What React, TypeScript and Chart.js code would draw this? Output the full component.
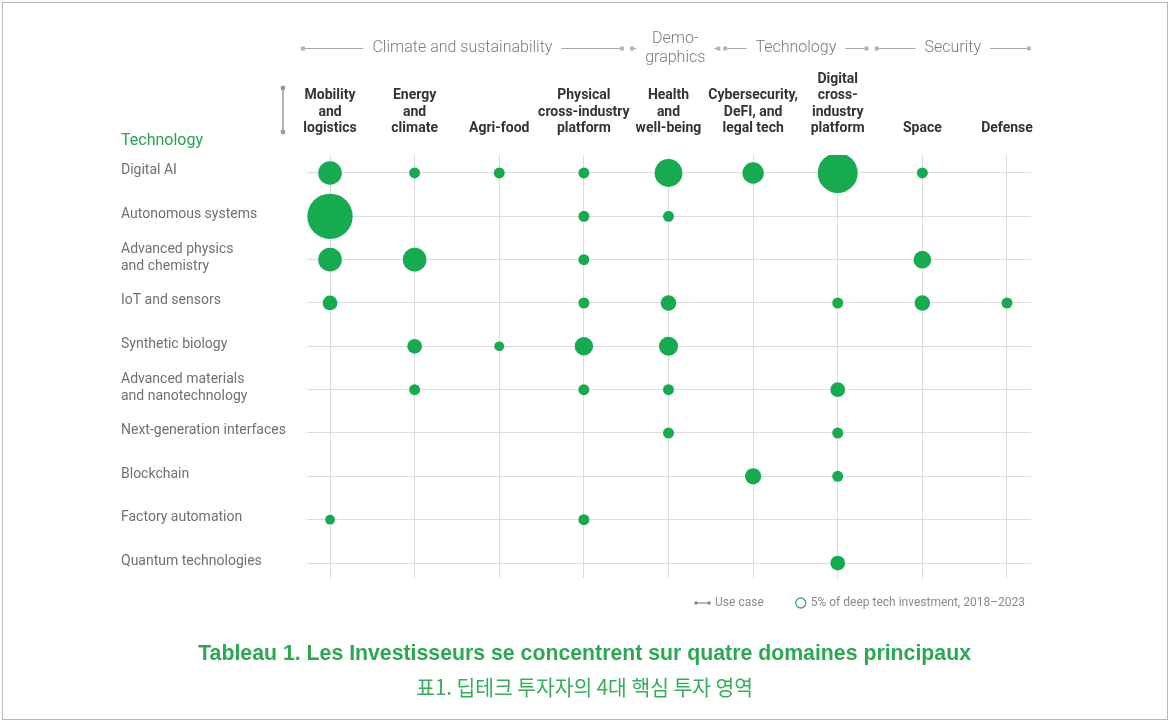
import React, { useEffect, useRef } from 'react';
import { Chart, registerables } from 'chart.js';

Chart.register(...registerables);

// ---- Data -------------------------------------------------------------
const useCases: string[][] = [
  ['Mobility', 'and', 'logistics'],
  ['Energy', 'and', 'climate'],
  ['Agri-food'],
  ['Physical', 'cross-industry', 'platform'],
  ['Health', 'and', 'well-being'],
  ['Cybersecurity,', 'DeFI, and', 'legal tech'],
  ['Digital', 'cross-', 'industry', 'platform'],
  ['Space'],
  ['Defense'],
];

const technologies: string[][] = [
  ['Digital AI'],
  ['Autonomous systems'],
  ['Advanced physics', 'and chemistry'],
  ['IoT and sensors'],
  ['Synthetic biology'],
  ['Advanced materials', 'and nanotechnology'],
  ['Next-generation interfaces'],
  ['Blockchain'],
  ['Factory automation'],
  ['Quantum technologies'],
];

const groupNames: string[][] = [
  ['Climate and sustainability'],
  ['Demo-', 'graphics'],
  ['Technology'],
  ['Security'],
];
const groupFirstCol = [0, 4, 5, 7];
const groupLastCol = [3, 4, 6, 8];

// share of deep tech investment 2018-2023 (%), per use case column
const digitalAI = [23, 5, 5, 5, 32, 19, 66, 5, 0];
const autonomousSystems = [85, 0, 0, 5, 5, 0, 0, 0, 0];
const physicsChemistry = [23, 23, 0, 5, 0, 0, 0, 13, 0];
const iotSensors = [9, 0, 0, 5, 10, 0, 5, 10, 5];
const syntheticBiology = [0, 9, 4, 14, 15, 0, 0, 0, 0];
const advancedMaterials = [0, 5, 0, 5, 5, 0, 9, 0, 0];
const nextGenInterfaces = [0, 0, 0, 0, 5, 0, 5, 0, 0];
const blockchain = [0, 0, 0, 0, 0, 11, 5, 0, 0];
const factoryAutomation = [4, 0, 0, 5, 0, 0, 0, 0, 0];
const quantumTech = [0, 0, 0, 0, 0, 0, 9, 0, 0];

const seriesByTechnology = [
  digitalAI,
  autonomousSystems,
  physicsChemistry,
  iotSensors,
  syntheticBiology,
  advancedMaterials,
  nextGenInterfaces,
  blockchain,
  factoryAutomation,
  quantumTech,
];

const legendUseCase = 'Use case';
const legendBubble = '5% of deep tech investment, 2018\u20132023';
const rowHeader = 'Technology';
const titleFr = 'Tableau 1. Les Investisseurs se concentrent sur quatre domaines principaux';
const titleKo = '표1. 딥테크 투자자의 4대 핵심 투자 영역';

// ---- Layout / style -------------------------------------------------
const GREEN = '#17ab50';
const TITLE_GREEN = '#2aa852';
const BASE_R = 5.5; // radius of a 5% bubble
const radiusFor = (v: number) => BASE_R * Math.sqrt(v / 5);
// group bracket edges relative to first/last column (column units)
const GROUP_EDGE_OFFSETS: [number, number][] = [
  [-0.32, 0.45],
  [-0.43, 0.59],
  [-0.33, 0.34],
  [-0.54, 0.26],
];

const decorPlugin = {
  id: 'decor',
  afterDraw(chart: any) {
    const { ctx, chartArea: ca } = chart;
    const xs = chart.scales.x;
    const ys = chart.scales.y;
    ctx.save();

    // group headers
    ctx.font = '300 16px Roboto';
    ctx.textBaseline = 'middle';
    ctx.textAlign = 'center';
    const lineY = ca.top - 106.5;
    groupNames.forEach((lines, gi) => {
      const x0 = xs.getPixelForValue(groupFirstCol[gi] + GROUP_EDGE_OFFSETS[gi][0]);
      const x1 = xs.getPixelForValue(groupLastCol[gi] + GROUP_EDGE_OFFSETS[gi][1]);
      const cx = (x0 + x1) / 2;
      const tw = Math.max(...lines.map((l) => ctx.measureText(l).width));
      ctx.fillStyle = '#b4b4b4';
      ctx.fillRect(x0 - 2, lineY - 2, 4, 4);
      ctx.fillRect(x1 - 2, lineY - 2, 4, 4);
      ctx.strokeStyle = '#a9a9a9';
      ctx.lineWidth = 1.2;
      ctx.beginPath();
      ctx.moveTo(x0 + 2, lineY);
      ctx.lineTo(cx - tw / 2 - 9, lineY);
      ctx.moveTo(cx + tw / 2 + 9, lineY);
      ctx.lineTo(x1 - 2, lineY);
      ctx.stroke();
      ctx.fillStyle = '#7a7a7a';
      const step = 19;
      lines.forEach((l, i) => {
        ctx.fillText(l, cx, ca.top - 107 + i * step - ((lines.length - 1) * step) / 2);
      });
    });

    // use-case bracket
    const bx = ca.left - 24;
    const by0 = ca.top - 67;
    const by1 = ca.top - 23;
    ctx.strokeStyle = '#9a9a9a';
    ctx.lineWidth = 1.5;
    ctx.beginPath();
    ctx.moveTo(bx, by0);
    ctx.lineTo(bx, by1);
    ctx.stroke();
    ctx.fillStyle = '#9a9a9a';
    [by0, by1].forEach((yy) => {
      ctx.beginPath();
      ctx.arc(bx, yy, 2.4, 0, Math.PI * 2);
      ctx.fill();
    });

    // row header
    ctx.font = '400 16px Roboto';
    ctx.textAlign = 'left';
    ctx.fillStyle = '#22a64e';
    ctx.fillText(rowHeader, ys.left, ca.top - 14);

    // legend
    ctx.font = '400 12px Roboto';
    ctx.fillStyle = '#8a8a8a';
    const ly = ca.bottom + 25;
    const w2 = ctx.measureText(legendBubble).width;
    const t2x = ca.right - 6 - w2;
    ctx.fillText(legendBubble, t2x, ly);
    const ccx = t2x - 10;
    ctx.strokeStyle = '#3aa874';
    ctx.lineWidth = 1.3;
    ctx.beginPath();
    ctx.arc(ccx, ly, 5, 0, Math.PI * 2);
    ctx.stroke();
    const w1 = ctx.measureText(legendUseCase).width;
    const t1x = ccx - 5 - 32 - w1;
    ctx.fillStyle = '#8a8a8a';
    ctx.fillText(legendUseCase, t1x, ly);
    ctx.strokeStyle = '#8a8a8a';
    ctx.lineWidth = 1.2;
    ctx.beginPath();
    ctx.moveTo(t1x - 19, ly);
    ctx.lineTo(t1x - 6, ly);
    ctx.stroke();
    [t1x - 19, t1x - 6].forEach((xx) => {
      ctx.beginPath();
      ctx.arc(xx, ly, 1.8, 0, Math.PI * 2);
      ctx.fill();
    });

    ctx.restore();
  },
};

export default function App() {
  const ref = useRef<HTMLCanvasElement>(null);

  useEffect(() => {
    document.body.style.margin = '0';
    const canvas = ref.current;
    if (!canvas) return;
    const points: { x: number; y: number; r: number }[] = [];
    seriesByTechnology.forEach((row, ti) => {
      row.forEach((v, ci) => {
        if (v > 0) points.push({ x: ci, y: ti, r: radiusFor(v) });
      });
    });

    const chart = new Chart(canvas, {
      type: 'bubble',
      data: {
        datasets: [
          {
            data: points,
            backgroundColor: GREEN,
            borderWidth: 0,
            hoverRadius: 0,
          },
        ],
      },
      options: {
        animation: false,
        responsive: false,
        events: [],
        layout: { padding: { left: 121, right: 139, top: 0, bottom: 144 } },
        plugins: { legend: { display: false }, tooltip: { enabled: false } },
        scales: {
          x: {
            type: 'linear',
            position: 'top',
            min: -0.272,
            max: 8.284,
            afterBuildTicks: (s: any) => {
              s.ticks = useCases.map((_, i) => ({ value: i }));
            },
            afterFit: (s: any) => {
              s.height = 155;
            },
            ticks: {
              callback: (v: any) => useCases[v] as any,
              font: { family: 'Roboto', size: 14, weight: 'bold', lineHeight: 1.18 },
              color: '#333333',
              padding: 18,
              maxRotation: 0,
              minRotation: 0,
              autoSkip: false,
            },
            grid: { color: '#dcdcdc', drawTicks: false, lineWidth: 1 },
            border: { display: false },
          },
          y: {
            type: 'linear',
            reverse: true,
            min: -0.415,
            max: 9.346,
            afterBuildTicks: (s: any) => {
              s.ticks = technologies.map((_, i) => ({ value: i }));
            },
            afterFit: (s: any) => {
              s.width = 186;
            },
            ticks: {
              callback: (v: any) => technologies[v] as any,
              crossAlign: 'far',
              labelOffset: -2,
              font: { family: 'Roboto', size: 14, weight: 'normal', lineHeight: 1.2 },
              color: '#707070',
              autoSkip: false,
            },
            grid: { color: '#dcdcdc', drawTicks: false, lineWidth: 1 },
            border: { display: false },
          },
        },
      },
      plugins: [decorPlugin],
    } as any);

    return () => chart.destroy();
  }, []);

  return (
    <div style={{ position: 'relative', width: 1170, height: 722, overflow: 'hidden', background: '#fff' }}>
      <div
        style={{
          position: 'absolute',
          left: 2,
          top: 2,
          width: 1166,
          height: 718,
          border: '1px solid #b8b8b8',
          boxSizing: 'border-box',
        }}
      />
      <canvas ref={ref} width={1170} height={722} style={{ position: 'absolute', left: 0, top: 0 }} />
      <div
        style={{
          position: 'absolute',
          left: 0,
          width: 1170,
          top: 640,
          textAlign: 'center',
          whiteSpace: 'nowrap',
        }}
      >
        <span
          style={{
            display: 'inline-block',
            fontFamily: '"Liberation Sans", Arial, sans-serif',
            fontWeight: 'bold',
            fontSize: 22,
            lineHeight: '26px',
            color: TITLE_GREEN,
            transform: 'scaleX(0.967)',
            transformOrigin: 'center',
          }}
        >
          {titleFr}
        </span>
      </div>
      <div
        style={{
          position: 'absolute',
          left: 0,
          width: 1170,
          top: 674,
          textAlign: 'center',
          whiteSpace: 'nowrap',
        }}
      >
        <span
          style={{
            display: 'inline-block',
            fontFamily: '"Noto Sans CJK KR", sans-serif',
            fontWeight: 400,
            fontSize: 21,
            lineHeight: '24px',
            color: '#36ad5c',
            transform: 'scaleX(0.97)',
            transformOrigin: 'center',
          }}
        >
          {titleKo}
        </span>
      </div>
    </div>
  );
}
